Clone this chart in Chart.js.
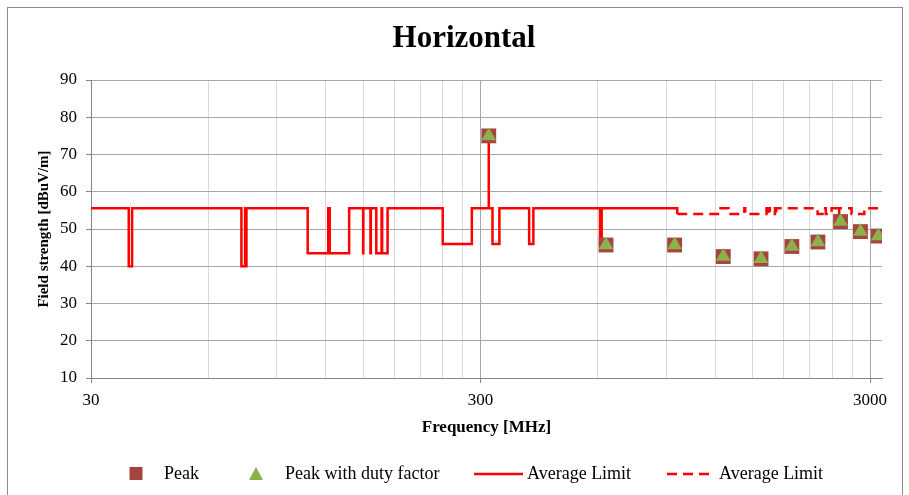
<!DOCTYPE html>
<html>
<head>
<meta charset="utf-8">
<title>Horizontal</title>
<script src="https://cdn.jsdelivr.net/npm/chart.js@4.4.1/dist/chart.umd.min.js"></script>
<style>
  body { margin: 0; background: #fff; }
  #wrap { width: 909px; height: 495px; }
</style>
</head>
<body>
<div id="wrap"><canvas id="horizontalChart" width="909" height="495"></canvas></div>
<script>
// measured peaks (harmonics of 315 MHz)
const peakFreq = [315, 630, 945, 1260, 1575, 1890, 2205, 2520, 2835, 3150];
const peakLevel = [75.0, 45.7, 45.7, 42.6, 42.0, 45.3, 46.5, 52.0, 49.3, 48.1];
const dutyLevel = [75.0, 45.7, 45.7, 42.6, 42.0, 45.3, 46.5, 52.0, 49.3, 48.1];

// average limit, solid part (each value holds until the next frequency)
const limitFreq = [30, 37.5, 38.25, 73, 74.6, 74.8, 75.2, 108, 121.94, 123, 138,
  149.9, 150.05, 156.52475, 156.52525, 156.7, 156.9, 162.0125, 167.17, 167.72, 173.2,
  240, 285, 315, 315, 322, 335.4, 399.9, 410, 608, 614, 960];
const limitLevel = [55.6, 40, 55.6, 40, 55.6, 40, 55.6, 43.5, 55.6, 43.5, 55.6,
  43.5, 55.6, 43.5, 55.6, 43.5, 55.6, 43.5, 55.6, 43.5, 55.6,
  46, 55.6, 75.6, 55.6, 46, 55.6, 46, 55.6, 46, 55.6, 54];

// average limit, dashed part above 960 MHz
const dashFreq = [960, 1240, 1300, 1427, 1435, 1626.5, 1645.5, 1646.5, 1660, 1710,
  1718.8, 1722.2, 2200, 2300, 2310, 2390, 2483.5, 2500, 2690, 2900, 3220];
const dashLevel = [54, 55.6, 54, 55.6, 54, 55.6, 54, 55.6, 54, 55.6,
  54, 55.6, 54, 55.6, 54, 55.6, 54, 55.6, 54, 55.6, 55.6];

// axis ticks
const xGridValues = [30, 60, 90, 120, 150, 180, 210, 240, 270, 300,
  600, 900, 1200, 1500, 1800, 2100, 2400, 2700, 3000];
const xTickLabels = [30, 300, 3000];
const yTicks = [10, 20, 30, 40, 50, 60, 70, 80, 90];

const serif = "'Liberation Serif', 'Times New Roman', serif";
const peakColor = '#A8443F';
const dutyColor = '#8DAF4C';
const limitColor = '#FF0000';

function toPoints(xs, ys) {
  let pts = [];
  for (let i = 0; i < xs.length; i++) {
    pts.push({ x: xs[i], y: ys[i] });
  }
  return pts;
}

// frame around the whole chart
const framePlugin = {
  id: 'frame',
  beforeDraw(chart) {
    const ctx = chart.ctx;
    ctx.save();
    ctx.strokeStyle = '#8C8C8C';
    ctx.lineWidth = 1;
    ctx.strokeRect(7.5, 7.5, 895, 500);
    ctx.restore();
  }
};

// legend row at the bottom
const legendPlugin = {
  id: 'bottomLegend',
  afterDraw(chart) {
    const ctx = chart.ctx;
    const y = 474;
    ctx.save();
    ctx.font = '18px ' + serif;
    ctx.fillStyle = '#000';
    ctx.textBaseline = 'middle';

    ctx.fillStyle = peakColor;
    ctx.fillRect(129.5, y - 7, 13, 13);
    ctx.fillStyle = '#000';
    ctx.fillText('Peak', 164, y);

    ctx.fillStyle = dutyColor;
    ctx.beginPath();
    ctx.moveTo(256, y - 7);
    ctx.lineTo(263, y + 6);
    ctx.lineTo(249, y + 6);
    ctx.closePath();
    ctx.fill();
    ctx.fillStyle = '#000';
    ctx.fillText('Peak with duty factor', 285, y);

    ctx.strokeStyle = limitColor;
    ctx.lineWidth = 2.5;
    ctx.beginPath();
    ctx.moveTo(474, y);
    ctx.lineTo(523, y);
    ctx.stroke();
    ctx.fillText('Average Limit', 527, y);

    ctx.setLineDash([10, 6]);
    ctx.beginPath();
    ctx.moveTo(667, y);
    ctx.lineTo(714, y);
    ctx.stroke();
    ctx.setLineDash([]);
    ctx.fillText('Average Limit', 719, y);
    ctx.restore();
  }
};

Chart.defaults.font.family = serif;
Chart.defaults.color = '#000';

const ctx = document.getElementById('horizontalChart');
new Chart(ctx, {
  type: 'scatter',
  data: {
    datasets: [
      {
        label: 'Peak',
        data: toPoints(peakFreq, peakLevel),
        pointStyle: 'rect',
        pointRadius: 10.5,
        backgroundColor: peakColor,
        borderColor: peakColor,
        borderWidth: 0,
        order: 1
      },
      {
        label: 'Peak with duty factor',
        data: toPoints(peakFreq, dutyLevel),
        pointStyle: 'triangle',
        pointRadius: 8.5,
        backgroundColor: dutyColor,
        borderColor: dutyColor,
        borderWidth: 0,
        order: 0
      },
      {
        type: 'line',
        label: 'Average Limit',
        data: toPoints(limitFreq, limitLevel),
        stepped: 'before',
        borderColor: limitColor,
        borderWidth: 2.5,
        pointRadius: 0,
        fill: false,
        order: 2
      },
      {
        type: 'line',
        label: 'Average Limit',
        data: toPoints(dashFreq, dashLevel),
        stepped: 'before',
        borderColor: limitColor,
        borderWidth: 2.5,
        borderDash: [10, 6],
        pointRadius: 0,
        fill: false,
        order: 3
      }
    ]
  },
  options: {
    responsive: false,
    animation: false,
    events: [],
    layout: {
      padding: { left: 46, right: 27, top: 0, bottom: 57 }
    },
    plugins: {
      legend: { display: false },
      tooltip: { enabled: false },
      title: {
        display: true,
        text: 'Horizontal',
        color: '#000',
        font: { size: 31, weight: 'bold', family: serif },
        padding: { top: 20, bottom: 22.8 }
      }
    },
    scales: {
      x: {
        type: 'logarithmic',
        min: 30,
        max: 3220,
        afterBuildTicks: (scale) => {
          scale.ticks = xGridValues.map(v => ({ value: v }));
        },
        afterFit: (scale) => { scale.height = 60; },
        ticks: {
          autoSkip: false,
          maxRotation: 0,
          padding: 7,
          font: { size: 17 },
          callback: (v) => xTickLabels.includes(v) ? String(v) : ''
        },
        grid: {
          color: (c) => (c.tick && xTickLabels.includes(c.tick.value)) ? '#A6A6A6' : '#D9D9D9',
          tickColor: (c) => (c.tick && xTickLabels.includes(c.tick.value)) ? '#868686' : 'rgba(0,0,0,0)',
          tickLength: 5
        },
        border: { color: '#868686' },
        title: {
          display: true,
          text: 'Frequency [MHz]',
          font: { size: 17, weight: 'bold' },
          padding: { top: 0, bottom: 0 }
        }
      },
      y: {
        min: 10,
        max: 90,
        afterBuildTicks: (scale) => {
          scale.ticks = yTicks.map(v => ({ value: v }));
        },
        afterFit: (scale) => { scale.width = 45; },
        ticks: {
          padding: 9,
          font: { size: 17 }
        },
        grid: {
          color: '#A6A6A6',
          tickColor: '#868686',
          tickLength: 5
        },
        border: { color: '#868686' },
        title: {
          display: true,
          text: 'Field strength [dBuV/m]',
          font: { size: 15, weight: 'bold' },
          padding: { top: -11, bottom: 0 }
        }
      }
    }
  },
  plugins: [framePlugin, legendPlugin]
});
</script>
</body>
</html>
